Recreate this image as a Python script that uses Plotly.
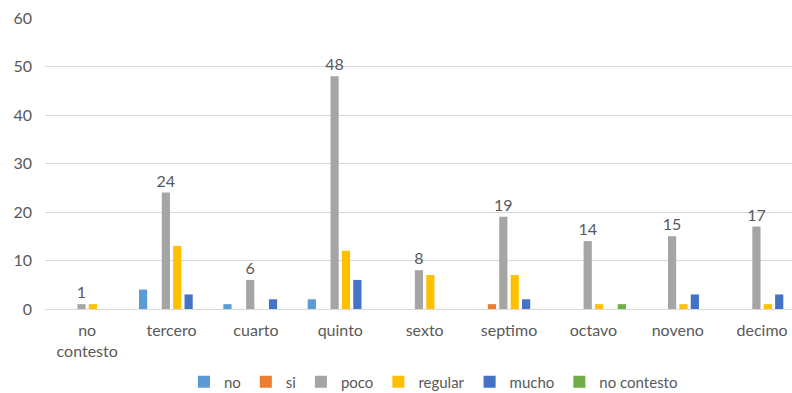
import plotly.graph_objects as go

categories = ["no contesto", "tercero", "cuarto", "quinto", "sexto", "septimo", "octavo", "noveno", "decimo"]
series_names = ["no", "si", "poco", "regular", "mucho", "no contesto"]
no_vals = [0, 4, 1, 2, 0, 0, 0, 0, 0]
si_vals = [0, 0, 0, 0, 0, 1, 0, 0, 0]
poco_vals = [1, 24, 6, 48, 8, 19, 14, 15, 17]
regular_vals = [1, 13, 0, 12, 7, 7, 1, 1, 1]
mucho_vals = [0, 3, 2, 6, 0, 2, 0, 3, 3]
nocontesto_vals = [0, 0, 0, 0, 0, 0, 1, 0, 0]
y_ticks = [0, 10, 20, 30, 40, 50, 60]

colors = ["#5B9BD5", "#ED7D31", "#A5A5A5", "#FFC000", "#4472C4", "#70AD47"]
all_vals = [no_vals, si_vals, poco_vals, regular_vals, mucho_vals, nocontesto_vals]

FONT = "Lato, Carlito, Open Sans, sans-serif"

fig = go.Figure()
for name, vals, col in zip(series_names, all_vals, colors):
    kw = {}
    if name == "poco":
        kw = dict(text=[str(v) for v in vals], textposition="outside",
                  textfont=dict(size=16, color="#595959", family=FONT),
                  cliponaxis=False, constraintext="none")
    fig.add_trace(go.Bar(x=categories, y=vals, name=name, marker_color=col,
                         marker_line_width=0, **kw))

fig.update_layout(
    width=792, height=393,
    margin=dict(l=45, r=0, t=18, b=84, autoexpand=False),
    paper_bgcolor="white", plot_bgcolor="white",
    barmode="group", bargap=0.19, bargroupgap=0.28,
    font=dict(family=FONT, size=14, color="#595959"),
    showlegend=True,
    legend=dict(orientation="h", x=0.52, xanchor="center", yref="container",
                y=0.028, yanchor="middle",
                font=dict(size=15, color="#595959"), traceorder="normal",
                itemwidth=30, tracegroupgap=0),
)
fig.update_xaxes(
    type="category", range=[-0.5, 8.354], automargin=False,
    tickvals=categories, ticktext=[c.replace(" ", "<br>") for c in categories],
    showgrid=False, showline=False, ticks="", tickfont=dict(size=16, color="#595959"),
    ticklabelstandoff=10,
)
fig.update_yaxes(
    range=[0, 60], tickvals=y_ticks, showgrid=True, gridcolor="#D9D9D9", gridwidth=1,
    zeroline=True, zerolinecolor="#D9D9D9", zerolinewidth=1, automargin=False,
    ticks="", tickfont=dict(size=16, color="#595959"), ticklabelstandoff=12,
)

fig.write_html("out.html")
